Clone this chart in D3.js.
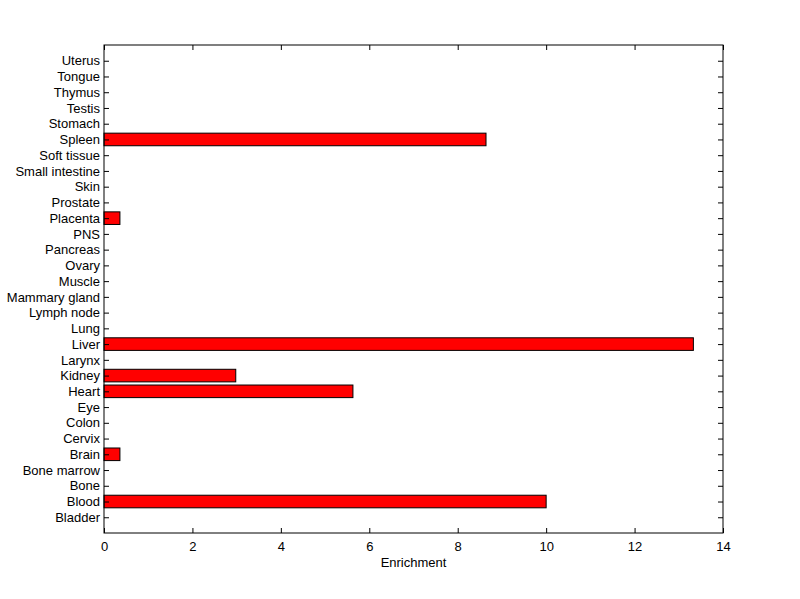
<!DOCTYPE html>
<html>
<head>
<meta charset="utf-8">
<script src="https://cdn.jsdelivr.net/npm/d3@7"></script>
<style>
  body { margin: 0; background: #fff; }
  text { font-family: Arial, "Liberation Sans", sans-serif; font-size: 13px; fill: #000; }
</style>
</head>
<body>
<div id="container"></div>
<script>
const tissues = ['Bladder', 'Blood', 'Bone', 'Bone marrow', 'Brain', 'Cervix', 'Colon', 'Eye',
    'Heart', 'Kidney', 'Larynx', 'Liver', 'Lung', 'Lymph node', 'Mammary gland', 'Muscle',
    'Ovary', 'Pancreas', 'PNS', 'Placenta', 'Prostate', 'Skin', 'Small intestine',
    'Soft tissue', 'Spleen', 'Stomach', 'Testis', 'Thymus', 'Tongue', 'Uterus'];
const enrichment = [0, 10.0, 0, 0, 0.36, 0, 0, 0,
    5.63, 2.98, 0, 13.33, 0, 0, 0, 0,
    0, 0, 0, 0.36, 0, 0, 0,
    0, 8.64, 0, 0, 0, 0, 0];
const xTicks = [0, 2, 4, 6, 8, 10, 12, 14];

const width = 800, height = 599;
const margin = { left: 104, right: 77, top: 45, bottom: 66 };
const innerW = width - margin.left - margin.right;
const innerH = height - margin.top - margin.bottom;

const svg = d3.select('#container').append('svg')
    .attr('width', width)
    .attr('height', height);

const x = d3.scaleLinear().domain([0, 14]).range([margin.left, margin.left + innerW]);
// positions 1..n, axis padded by one unit on each side like MATLAB barh
const y = d3.scaleLinear().domain([0, tissues.length + 1]).range([margin.top + innerH, margin.top]);
const barH = (y(0) - y(0.8));

const data = tissues.map((t, i) => ({ name: t, pos: i + 1, value: enrichment[i] }));

svg.append('g').selectAll('rect')
    .data(data.filter(d => d.value > 0))
    .join('rect')
    .attr('x', x(0))
    .attr('y', d => y(d.pos) - barH / 2)
    .attr('width', d => x(d.value) - x(0))
    .attr('height', barH)
    .attr('fill', '#ff0000')
    .attr('stroke', '#000')
    .attr('stroke-width', 1);

const axisStyle = g => {
    g.select('.domain').remove();
    g.selectAll('line').attr('stroke', '#000');
};

// bottom axis, ticks inward
svg.append('g')
    .attr('transform', `translate(0,${margin.top + innerH})`)
    .call(d3.axisBottom(x).tickValues(xTicks).tickSizeInner(-5).tickSizeOuter(0).tickPadding(9))
    .call(axisStyle);

// top ticks
svg.append('g')
    .attr('transform', `translate(0,${margin.top})`)
    .call(d3.axisTop(x).tickValues(xTicks).tickSizeInner(-5).tickSizeOuter(0).tickFormat(''))
    .call(axisStyle);

// left axis
svg.append('g')
    .attr('transform', `translate(${margin.left},0)`)
    .call(d3.axisLeft(y).tickValues(data.map(d => d.pos)).tickFormat((d, i) => tissues[i])
        .tickSizeInner(-5).tickSizeOuter(0).tickPadding(4))
    .call(axisStyle);

// right ticks
svg.append('g')
    .attr('transform', `translate(${margin.left + innerW},0)`)
    .call(d3.axisRight(y).tickValues(data.map(d => d.pos)).tickFormat('')
        .tickSizeInner(-5).tickSizeOuter(0))
    .call(axisStyle);

svg.selectAll('.tick text').attr('font-size', 13).attr('font-family', 'Arial, "Liberation Sans", sans-serif');

// box
svg.append('rect')
    .attr('x', margin.left)
    .attr('y', margin.top)
    .attr('width', innerW)
    .attr('height', innerH)
    .attr('fill', 'none')
    .attr('stroke', '#000');

svg.append('text')
    .attr('x', margin.left + innerW / 2)
    .attr('y', 567)
    .attr('text-anchor', 'middle')
    .text('Enrichment');
</script>
</body>
</html>
